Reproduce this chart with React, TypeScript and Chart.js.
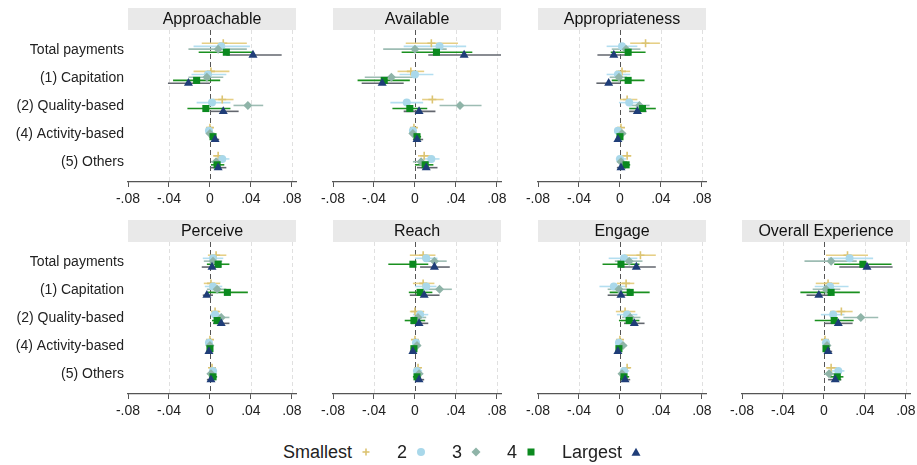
import React, { useEffect, useRef } from "react";
import { Chart, registerables } from "chart.js";
Chart.register(...registerables);

// ---------- data ----------
const categories = ["Total payments", "(1) Capitation", "(2) Quality-based", "(4) Activity-based", "(5) Others"];
const seriesNames = ["Smallest", "2", "3", "4", "Largest"];
const xTickValues = [-0.08, -0.04, 0, 0.04, 0.08];
const xTickLabels = ["-.08", "-.04", "0", ".04", ".08"];

// rows = series (Smallest, 2, 3, 4, Largest); columns = categories
const approachableEst = [
  [0.013, 0.001, 0.012, 0.000, 0.008],
  [0.011, -0.002, 0.002, -0.001, 0.012],
  [0.008, -0.003, 0.037, 0.000, 0.006],
  [0.016, -0.013, -0.004, 0.003, 0.007],
  [0.042, -0.021, 0.013, 0.005, 0.008],
];
const approachableLo = [
  [-0.008, -0.016, 0.003, -0.003, 0.003],
  [-0.016, -0.018, -0.013, -0.004, 0.005],
  [-0.021, -0.021, 0.023, -0.003, 0.001],
  [-0.011, -0.036, -0.022, -0.001, 0.001],
  [0.016, -0.041, 0.000, 0.001, 0.000],
];
const approachableHi = [
  [0.036, 0.019, 0.023, 0.003, 0.013],
  [0.039, 0.016, 0.020, 0.003, 0.019],
  [0.036, 0.013, 0.052, 0.005, 0.012],
  [0.042, 0.010, 0.020, 0.006, 0.014],
  [0.070, 0.000, 0.028, 0.009, 0.016],
];

const availableEst = [
  [0.016, -0.004, 0.017, -0.001, 0.009],
  [0.024, 0.000, -0.008, -0.002, 0.016],
  [0.000, -0.023, 0.044, -0.002, 0.006],
  [0.021, -0.030, -0.005, 0.002, 0.010],
  [0.048, -0.032, 0.004, 0.002, 0.011],
];
const availableLo = [
  [-0.009, -0.017, 0.007, -0.003, 0.003],
  [-0.011, -0.015, -0.024, -0.005, 0.008],
  [-0.031, -0.049, 0.024, -0.004, -0.002],
  [-0.013, -0.056, -0.022, -0.001, 0.000],
  [0.013, -0.052, -0.011, -0.002, 0.002],
];
const availableHi = [
  [0.042, 0.009, 0.028, 0.002, 0.015],
  [0.050, 0.018, 0.008, 0.002, 0.024],
  [0.031, 0.002, 0.065, 0.002, 0.015],
  [0.056, -0.005, 0.012, 0.006, 0.018],
  [0.086, -0.011, 0.020, 0.008, 0.022],
];

const appropriatenessEst = [
  [0.025, 0.002, 0.007, 0.001, 0.007],
  [0.002, -0.002, 0.009, -0.002, 0.000],
  [0.006, -0.001, 0.019, 0.002, 0.001],
  [0.008, 0.008, 0.022, 0.000, 0.006],
  [-0.006, -0.011, 0.017, -0.002, 0.001],
];
const appropriatenessLo = [
  [0.010, -0.004, 0.000, -0.002, 0.002],
  [-0.013, -0.013, -0.001, -0.004, -0.004],
  [-0.008, -0.010, 0.010, -0.001, -0.003],
  [-0.009, -0.008, 0.009, -0.003, 0.000],
  [-0.022, -0.023, 0.009, -0.004, -0.003],
];
const appropriatenessHi = [
  [0.039, 0.010, 0.017, 0.002, 0.011],
  [0.017, 0.010, 0.019, 0.001, 0.006],
  [0.020, 0.007, 0.029, 0.006, 0.007],
  [0.025, 0.024, 0.035, 0.002, 0.010],
  [0.010, 0.001, 0.026, 0.001, 0.006],
];

const perceiveEst = [
  [0.006, 0.001, 0.005, 0.000, 0.002],
  [0.003, 0.003, 0.005, -0.001, 0.003],
  [0.003, 0.007, 0.011, 0.000, 0.001],
  [0.008, 0.017, 0.007, 0.000, 0.003],
  [0.002, -0.003, 0.011, -0.001, 0.001],
];
const perceiveLo = [
  [-0.002, -0.006, 0.001, -0.001, -0.001],
  [-0.007, -0.005, 0.000, -0.003, -0.001],
  [-0.006, -0.003, 0.005, -0.003, -0.003],
  [-0.003, -0.002, 0.002, -0.002, -0.001],
  [-0.008, -0.007, 0.003, -0.003, -0.003],
];
const perceiveHi = [
  [0.016, 0.010, 0.010, 0.002, 0.005],
  [0.013, 0.012, 0.012, 0.002, 0.007],
  [0.012, 0.016, 0.019, 0.002, 0.005],
  [0.019, 0.037, 0.012, 0.003, 0.007],
  [0.011, 0.003, 0.019, 0.002, 0.004],
];

const reachEst = [
  [0.008, 0.008, 0.000, 0.000, 0.003],
  [0.011, 0.011, 0.005, 0.001, 0.002],
  [0.019, 0.024, 0.003, 0.002, 0.004],
  [-0.002, 0.005, -0.001, -0.001, 0.002],
  [0.019, 0.009, 0.004, -0.002, 0.004],
];
const reachLo = [
  [-0.005, -0.002, -0.005, -0.002, 0.000],
  [0.000, 0.000, -0.002, -0.002, -0.002],
  [0.009, 0.011, -0.003, -0.002, 0.000],
  [-0.026, -0.006, -0.010, -0.004, -0.002],
  [0.005, -0.005, -0.004, -0.005, 0.000],
];
const reachHi = [
  [0.020, 0.019, 0.009, 0.002, 0.006],
  [0.022, 0.021, 0.013, 0.004, 0.007],
  [0.031, 0.036, 0.011, 0.006, 0.008],
  [0.013, 0.017, 0.010, 0.002, 0.006],
  [0.034, 0.024, 0.013, 0.002, 0.009],
];

const engageEst = [
  [0.020, 0.006, 0.005, 0.000, 0.007],
  [0.004, -0.006, 0.007, -0.001, 0.004],
  [0.009, -0.001, 0.010, 0.003, 0.002],
  [0.001, 0.010, 0.009, -0.001, 0.004],
  [0.016, 0.001, 0.014, -0.002, 0.005],
];
const engageLo = [
  [0.004, -0.003, -0.004, -0.003, 0.002],
  [-0.011, -0.020, -0.003, -0.004, 0.000],
  [-0.005, -0.012, 0.002, 0.000, -0.001],
  [-0.017, -0.010, -0.001, -0.003, 0.000],
  [0.001, -0.012, 0.004, -0.004, 0.001],
];
const engageHi = [
  [0.035, 0.014, 0.015, 0.002, 0.010],
  [0.017, 0.007, 0.017, 0.002, 0.009],
  [0.022, 0.010, 0.020, 0.007, 0.007],
  [0.019, 0.029, 0.019, 0.001, 0.009],
  [0.035, 0.012, 0.024, 0.001, 0.010],
];

const overallEst = [
  [0.023, 0.004, 0.017, 0.001, 0.007],
  [0.025, 0.006, 0.009, 0.002, 0.014],
  [0.007, 0.002, 0.036, 0.003, 0.005],
  [0.038, 0.007, 0.010, 0.002, 0.013],
  [0.042, -0.005, 0.014, 0.004, 0.011],
];
const overallLo = [
  [0.002, -0.008, 0.006, -0.002, 0.002],
  [0.004, -0.009, -0.003, -0.002, 0.006],
  [-0.019, -0.011, 0.019, 0.000, 0.000],
  [0.010, -0.023, -0.009, 0.000, 0.006],
  [0.015, -0.017, 0.000, 0.000, 0.004],
];
const overallHi = [
  [0.043, 0.015, 0.028, 0.003, 0.013],
  [0.048, 0.024, 0.020, 0.005, 0.020],
  [0.032, 0.016, 0.053, 0.006, 0.010],
  [0.066, 0.035, 0.029, 0.006, 0.019],
  [0.067, 0.007, 0.028, 0.008, 0.017],
];

// ---------- styles ----------
const FONT = '"Liberation Sans", Arial, Helvetica, sans-serif';
const markerColors = ["#dcc472", "#a9d8ea", "#8fb4a8", "#0b8a1f", "#1f3d78"];
const ciColors = ["#e6cf86", "#b3def0", "#9dbcb3", "#1a901f", "#62666e"];
const pointStyles = ["cross", "circle", "rectRot", "rect", "triangle"];
const pointRadii = [4, 4, 4.5, 5, 5.2];
const seriesOffsets = [-0.23, -0.12, -0.02, 0.09, 0.19];

const COL_LEFTS = [128, 333, 538, 742];
const ROW_TOPS = [8, 220];
const PLOT_W = 168;
const TITLE_H = 22;
const XAXIS_H = 30;
const CANVAS_H = 204;

const panels = [
  { title: "Approachable", est: approachableEst, lo: approachableLo, hi: approachableHi, col: 0, row: 0 },
  { title: "Available", est: availableEst, lo: availableLo, hi: availableHi, col: 1, row: 0 },
  { title: "Appropriateness", est: appropriatenessEst, lo: appropriatenessLo, hi: appropriatenessHi, col: 2, row: 0 },
  { title: "Perceive", est: perceiveEst, lo: perceiveLo, hi: perceiveHi, col: 0, row: 1 },
  { title: "Reach", est: reachEst, lo: reachLo, hi: reachHi, col: 1, row: 1 },
  { title: "Engage", est: engageEst, lo: engageLo, hi: engageHi, col: 2, row: 1 },
  { title: "Overall Experience", est: overallEst, lo: overallLo, hi: overallHi, col: 3, row: 1 },
];

const titlePlugin = {
  id: "panelTitle",
  beforeDraw(chart: any) {
    const { ctx, chartArea: ca } = chart;
    const title = chart.options.plugins.panelTitle.text;
    ctx.save();
    ctx.fillStyle = "#e9e9e9";
    ctx.fillRect(ca.left, ca.top - TITLE_H, ca.right - ca.left, TITLE_H);
    ctx.fillStyle = "#111";
    ctx.font = `16px ${FONT}`;
    ctx.textAlign = "center";
    ctx.textBaseline = "middle";
    ctx.fillText(title, (ca.left + ca.right) / 2, ca.top - TITLE_H / 2 + 1);
    ctx.restore();
  },
};

const dashGridPlugin = {
  id: "dashGrid",
  beforeDatasetsDraw(chart: any) {
    const { ctx, chartArea: ca, scales } = chart;
    const xs = scales.x;
    ctx.save();
    xTickValues.forEach((v, i) => {
      if (i === 0) return;
      const px = Math.round(xs.getPixelForValue(v)) + 0.5;
      ctx.beginPath();
      if (v === 0) {
        ctx.strokeStyle = "#555";
        ctx.setLineDash([5, 3]);
      } else {
        ctx.strokeStyle = "#e0e0e0";
        ctx.setLineDash([4, 3]);
      }
      ctx.lineWidth = 1;
      ctx.moveTo(px, ca.top);
      ctx.lineTo(px, ca.bottom);
      ctx.stroke();
    });
    ctx.restore();
  },
};

function Panel({ title, est, lo, hi, col, row }: any) {
  const ref = useRef<HTMLCanvasElement>(null);
  const showLabels = col === 0;
  const padL = showLabels ? 0 : 24;
  const yW = showLabels ? 128 : 0;
  const padR = 20;
  const width = yW + padL + PLOT_W + padR;
  const left = COL_LEFTS[col] - yW - padL;
  const top = ROW_TOPS[row];

  useEffect(() => {
    const datasets: any[] = [];
    for (let s = 4; s >= 0; s--) {
      datasets.push({
        type: "scatter",
        label: seriesNames[s],
        data: categories.map((_, i) => ({ x: est[s][i], y: i + 1 + seriesOffsets[s] })),
        pointStyle: pointStyles[s],
        pointRadius: pointRadii[s],
        backgroundColor: markerColors[s],
        borderColor: markerColors[s],
        borderWidth: s === 0 ? 1.6 : 0,
      });
    }
    for (let s = 4; s >= 0; s--) {
      for (let i = 0; i < categories.length; i++) {
        const yy = i + 1 + seriesOffsets[s];
        datasets.push({
          type: "line",
          label: seriesNames[s] + " CI",
          data: [
            { x: lo[s][i], y: yy },
            { x: hi[s][i], y: yy },
          ],
          borderColor: ciColors[s],
          borderWidth: 1.6,
          pointRadius: 0,
          fill: false,
        });
      }
    }
    const chart = new Chart(ref.current as HTMLCanvasElement, {
      type: "scatter",
      data: { datasets },
      plugins: [titlePlugin, dashGridPlugin],
      options: {
        animation: false,
        responsive: false,
        devicePixelRatio: 1,
        events: [],
        layout: { padding: { top: TITLE_H, left: padL, right: padR, bottom: 0 } },
        plugins: {
          legend: { display: false },
          tooltip: { enabled: false },
          title: { display: false },
          panelTitle: { text: title },
        } as any,
        scales: {
          x: {
            type: "linear",
            min: -0.08,
            max: 0.084,
            afterBuildTicks: (scale: any) => {
              scale.ticks = xTickValues.map((v) => ({ value: v }));
            },
            afterFit: (scale: any) => {
              scale.height = XAXIS_H;
            },
            ticks: {
              autoSkip: false,
              maxRotation: 0,
              padding: 4,
              color: "#222",
              font: { family: FONT, size: 14 },
              callback: (v: any) => {
                const idx = xTickValues.findIndex((t) => Math.abs(t - v) < 1e-9);
                return idx >= 0 ? xTickLabels[idx] : "";
              },
            },
            grid: {
              display: true,
              drawOnChartArea: false,
              drawTicks: true,
              tickLength: 5,
              tickColor: "#555",
              tickWidth: 1,
            },
            border: { display: true, color: "#555", width: 1.2 },
          },
          y: {
            type: "linear",
            display: showLabels,
            reverse: true,
            min: 0.3,
            max: 5.7,
            afterBuildTicks: (scale: any) => {
              scale.ticks = categories.map((_, i) => ({ value: i + 1 }));
            },
            afterFit: (scale: any) => {
              if (showLabels) scale.width = yW;
            },
            ticks: {
              autoSkip: false,
              padding: 4,
              color: "#222",
              font: { family: FONT, size: 14 },
              callback: (v: any) => categories[Math.round(v) - 1] ?? "",
            },
            grid: { display: false, drawTicks: false, tickLength: 0 },
            border: { display: false },
          },
        },
      } as any,
    });
    return () => chart.destroy();
  }, []);

  return (
    <canvas
      ref={ref}
      width={width}
      height={CANVAS_H}
      style={{ position: "absolute", left, top, width, height: CANVAS_H }}
    />
  );
}

function Marker({ s }: { s: number }) {
  const c = markerColors[s];
  let shape: any = null;
  if (s === 0)
    shape = (
      <g stroke={c} strokeWidth={1.6}>
        <line x1={5} y1={1.5} x2={5} y2={8.5} />
        <line x1={1.5} y1={5} x2={8.5} y2={5} />
      </g>
    );
  else if (s === 1) shape = <circle cx={5} cy={5} r={4} fill={c} />;
  else if (s === 2) shape = <polygon points="5,0.5 9.5,5 5,9.5 0.5,5" fill={c} />;
  else if (s === 3) shape = <rect x={1.5} y={1.5} width={7} height={7} fill={c} />;
  else shape = <polygon points="5,0.8 9.5,8.8 0.5,8.8" fill={c} />;
  return (
    <svg width={10} height={10} style={{ display: "block" }}>
      {shape}
    </svg>
  );
}

function Legend() {
  return (
    <div
      style={{
        position: "absolute",
        left: 283,
        top: 440,
        height: 24,
        display: "flex",
        alignItems: "center",
        fontFamily: FONT,
        fontSize: 18,
        color: "#222",
        whiteSpace: "nowrap",
      }}
    >
      {seriesNames.map((n, s) => (
        <div key={n} style={{ display: "flex", alignItems: "center", marginRight: 26 }}>
          <span style={{ marginRight: 9 }}>{n}</span>
          <Marker s={s} />
        </div>
      ))}
    </div>
  );
}

export default function App() {
  useEffect(() => {
    document.body.style.margin = "0";
  }, []);
  return (
    <div
      style={{
        position: "absolute",
        left: 0,
        top: 0,
        width: 917,
        height: 465,
        background: "#fff",
        overflow: "hidden",
      }}
    >
      {panels.map((p) => (
        <Panel key={p.title} {...p} />
      ))}
      <Legend />
    </div>
  );
}
